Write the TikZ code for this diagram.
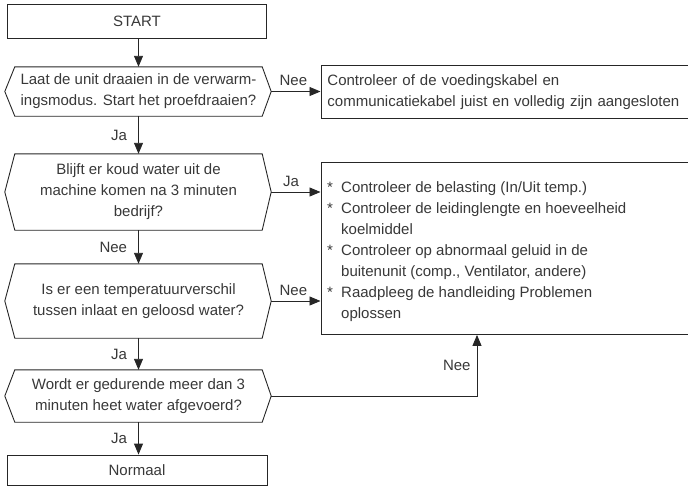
\documentclass[tikz,border=0pt]{standalone}
\usepackage{fontspec}
\setmainfont{Liberation Sans}
\usetikzlibrary{arrows.meta,calc}
\definecolor{ink}{HTML}{262626}
\definecolor{txt}{HTML}{383838}
\begin{document}
\begin{tikzpicture}[x=1pt,y=-1pt,
  every node/.style={font=\fontsize{15}{21}\selectfont, text=txt},
  box/.style={draw=ink, line width=0.9pt, rectangle, inner sep=0pt},
  hexbody/.style={rectangle, inner sep=0pt, align=center},
  hexline/.style={draw=ink, line width=0.9pt},
  arr/.style={draw=ink, line width=0.9pt, -{Triangle[length=11pt,width=9pt]}},
  vlbl/.style={anchor=east, inner sep=0pt, xshift=-11pt},
  hlbl/.style={anchor=south, inner sep=0pt, yshift=5pt}]
\clip (0,0) rectangle (688,491);
\useasboundingbox (0,0) rectangle (688,491);

% nodes
\node[box, minimum width=259, minimum height=34] (start) at (137,21) {START};

\node[hexbody, minimum width=247, minimum height=49] (h1) at (138.5,91.5)
  {Laat de unit draaien in de verwarm-\\ingsmodus. Start het proefdraaien?};
\node[hexbody, minimum width=247, minimum height=76] (h2) at (138.5,192)
  {Blijft er koud water uit de\\machine komen na 3 minuten\\bedrijf?};
\node[hexbody, minimum width=247, minimum height=74] (h3) at (138.5,301)
  {Is er een temperatuurverschil\\tussen inlaat en geloosd water?};
\node[hexbody, minimum width=247, minimum height=52] (h4) at (138.5,396)
  {Wordt er gedurende meer dan 3\\minuten heet water afgevoerd?};

\node[box, minimum width=260, minimum height=30] (norm) at (137,470) {Normaal};

\node[box, minimum width=370, minimum height=53, align=left, text width=357,
      inner xsep=6.5pt, anchor=north west] (kabel) at (320.5,65)
  {Controleer of de voedingskabel en\\communicatiekabel juist en volledig zijn aangesloten};

\node[box, minimum width=370, minimum height=172, anchor=north west] (chk) at (320.5,162) {};
\node[anchor=base west, inner sep=0pt] (chktxt) at (327,192)
  {\begin{tabular}[t]{@{}l@{}}
   \makebox[14pt][l]{*}Controleer de belasting (In/Uit temp.)\\
   \makebox[14pt][l]{*}Controleer de leidinglengte en hoeveelheid\\
   \hspace*{14pt}koelmiddel\\
   \makebox[14pt][l]{*}Controleer op abnormaal geluid in de\\
   \hspace*{14pt}buitenunit (comp., Ventilator, andere)\\
   \makebox[14pt][l]{*}Raadpleeg de handleiding Problemen\\
   \hspace*{14pt}oplossen
   \end{tabular}};

% hexagon outlines
\foreach \h in {h1,h2,h3,h4}{
  \draw[hexline] (\h.north west) -- (\h.north east) -- ([xshift=9pt]\h.east)
    -- (\h.south east) -- (\h.south west) -- ([xshift=-10pt]\h.west) -- cycle;
  \coordinate (\h r) at ([xshift=9pt]\h.east);
}

% vertical flow
\draw[arr] (start.south -| h1.north) -- (h1.north);
\draw[arr] (h1.south) -- node[vlbl] {Ja} (h2.north);
\draw[arr] (h2.south) -- node[vlbl] {Nee} (h3.north);
\draw[arr] (h3.south) -- node[vlbl] {Ja} (h4.north);
\draw[arr] (h4.south) -- node[vlbl] {Ja} (norm.north -| h4.south);

% horizontal branches
\draw[arr] (h1r) -- node[hlbl, pos=0.45] {Nee} (h1r -| kabel.west);
\draw[arr] (h2r) -- node[hlbl, pos=0.4] {Ja} (h2r -| chk.west);
\draw[arr] (h3r) -- node[hlbl, pos=0.45] {Nee} (h3r -| chk.west);
\draw[arr] (h4r) -| node[pos=0.75, anchor=east, inner sep=0pt, xshift=-6pt] {Nee}
  ($(chk.south west)+(156.5,0)$);
\end{tikzpicture}
\end{document}
